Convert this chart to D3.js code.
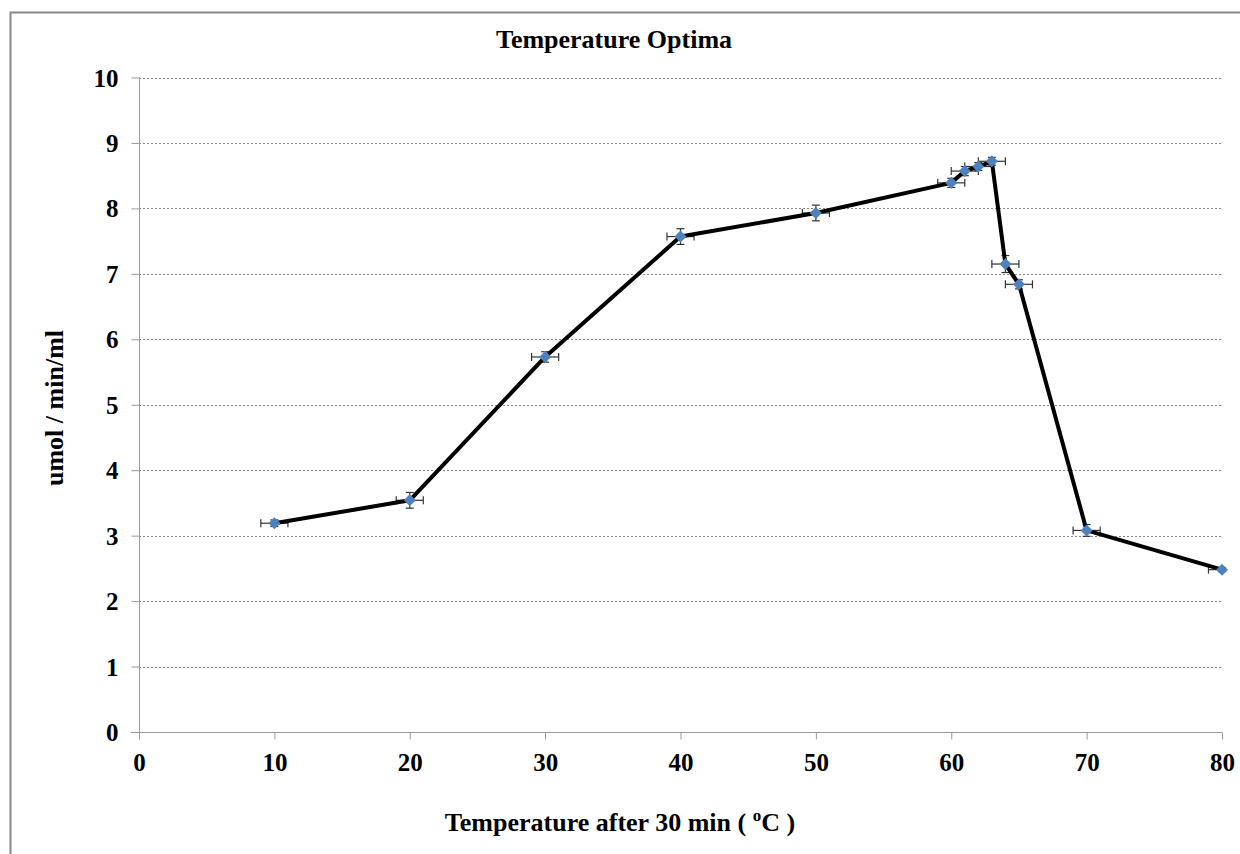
<!DOCTYPE html>
<html><head><meta charset="utf-8">
<script src="https://cdn.jsdelivr.net/npm/d3@7"></script>
<style>body{margin:0;background:#fff}svg{display:block}text{font-family:"Liberation Serif","Times New Roman",serif;font-weight:bold;fill:#000}</style>
</head><body>
<svg id="c" width="1240" height="854"></svg>
<script>
const temps = [10, 20, 30, 40, 50, 60, 61, 62, 63, 64, 65, 70, 80];
const activity = [3.19, 3.54, 5.73, 7.57, 7.93, 8.39, 8.57, 8.64, 8.72, 7.15, 6.84, 3.08, 2.48];
const yErr = [0.05, 0.12, 0.08, 0.12, 0.12, 0.07, 0.07, 0.06, 0.06, 0.13, 0.07, 0.09, 0.03];
const xErr = [1, 1, 1, 1, 1, 1, 1, 1, 1, 1, 1, 1, 1];
const xTicks = [0, 10, 20, 30, 40, 50, 60, 70, 80];
const yTicks = [0, 1, 2, 3, 4, 5, 6, 7, 8, 9, 10];

const svg = d3.select("#c");
const x = d3.scaleLinear().domain([0, 80]).range([139, 1222]);
const y = d3.scaleLinear().domain([0, 10]).range([732, 77.5]);

// outer border
svg.append("path").attr("d", "M10.5,860 V12.5 H1250").attr("fill", "none").attr("stroke", "#888").attr("stroke-width", 2);

// gridlines
svg.append("g").selectAll("line").data(yTicks.filter(d => d > 0)).join("line")
  .attr("x1", x(0)).attr("x2", x(80)).attr("y1", d => Math.round(y(d)) + 0.5).attr("y2", d => Math.round(y(d)) + 0.5)
  .attr("stroke", "#8a8a8a").attr("stroke-width", 1).attr("stroke-dasharray", "2,2");

// y axis
const ya = svg.append("g").attr("transform", `translate(${x(0) + 0.5},0)`)
  .call(d3.axisLeft(y).tickValues(yTicks).tickSize(8).tickPadding(13).tickFormat(d3.format("d")));
ya.select(".domain").attr("stroke", "#999").attr("d", `M0,${y(0)}V${y(10)}`);
ya.selectAll(".tick line").attr("stroke", "#999");
ya.selectAll(".tick text").attr("font-size", 25).attr("font-family", "Liberation Serif").attr("font-weight", "bold").attr("fill", "#000").attr("dy", "0.34em");

// x axis
const xa = svg.append("g").attr("transform", `translate(0,${Math.round(y(0)) + 0.5})`)
  .call(d3.axisBottom(x).tickValues(xTicks).tickSize(7).tickPadding(12).tickFormat(d3.format("d")));
xa.select(".domain").attr("stroke", "#999").attr("d", `M${x(0) - 8},0H${x(80)}`);
xa.selectAll(".tick line").attr("stroke", "#999");
xa.selectAll(".tick text").attr("font-size", 25).attr("font-family", "Liberation Serif").attr("font-weight", "bold").attr("fill", "#000")
  .attr("dy", null).attr("y", 38);

const pts = temps.map((t, i) => ({ t, v: activity[i], ye: yErr[i], xe: xErr[i] }));

// error bars
const eb = svg.append("g").attr("stroke", "#333").attr("stroke-width", 1.2).attr("fill", "none");
pts.forEach(p => {
  const cx = x(p.t), cy = y(p.v);
  const xl = x(Math.max(0, p.t - p.xe)), xr = x(Math.min(80, p.t + p.xe));
  eb.append("line").attr("x1", xl).attr("x2", xr).attr("y1", cy).attr("y2", cy);
  eb.append("line").attr("x1", xl).attr("x2", xl).attr("y1", cy - 4).attr("y2", cy + 4);
  if (p.t + p.xe <= 80) eb.append("line").attr("x1", xr).attr("x2", xr).attr("y1", cy - 4).attr("y2", cy + 4);
  const yt = y(p.v + p.ye), yb = y(p.v - p.ye);
  eb.append("line").attr("x1", cx).attr("x2", cx).attr("y1", yt).attr("y2", yb);
  eb.append("line").attr("x1", cx - 4).attr("x2", cx + 4).attr("y1", yt).attr("y2", yt);
  eb.append("line").attr("x1", cx - 4).attr("x2", cx + 4).attr("y1", yb).attr("y2", yb);
});

// line
svg.append("path").datum(pts)
  .attr("d", d3.line().x(d => x(d.t)).y(d => y(d.v)))
  .attr("fill", "none").attr("stroke", "#000").attr("stroke-width", 4).attr("stroke-linejoin", "round");

// markers
svg.append("g").selectAll("path").data(pts).join("path")
  .attr("transform", d => `translate(${x(d.t)},${y(d.v)})`)
  .attr("d", "M0,-6L6,0L0,6L-6,0Z").attr("fill", "#4F81BD");

// title
svg.append("text").attr("x", 614).attr("y", 48).attr("text-anchor", "middle").attr("font-size", 26).text("Temperature Optima");

// x title
const xt = svg.append("text").attr("x", 620).attr("y", 831).attr("text-anchor", "middle").attr("font-size", 26);
xt.append("tspan").text("Temperature after 30 min ( ");
xt.append("tspan").attr("font-size", 17).attr("dy", -10).text("o");
xt.append("tspan").attr("dy", 10).text("C )");

// y title
svg.append("text").attr("transform", "translate(63,408) rotate(-90)").attr("text-anchor", "middle").attr("font-size", 26).text("umol / min/ml");
</script>
</body></html>
